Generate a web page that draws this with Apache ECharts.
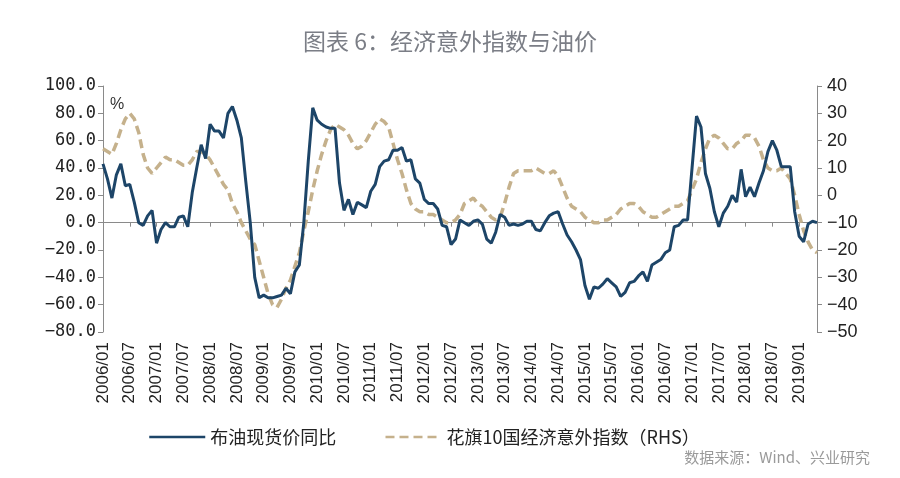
<!DOCTYPE html>
<html>
<head>
<meta charset="utf-8">
<script src="https://cdn.jsdelivr.net/npm/echarts@6/dist/echarts.min.js"></script>
<style>
  html, body { margin: 0; padding: 0; background: #fff; }
  #chart { width: 900px; height: 478px; }
</style>
</head>
<body>
<div id="chart"></div>
<script>
// 月份：2006/01 - 2019/05
let months = [];
for (let y = 2006; y <= 2019; y++) {
  for (let m = 1; m <= 12; m++) {
    if (y === 2019 && m > 5) break;
    months.push(y + '/' + (m < 10 ? '0' + m : m));
  }
}

// 布油现货价同比（左轴，%）
let oilYoy = [
  43, 32, 18, 35, 43, 27, 28, 15, 0, -2,
  5, 9, -15, -5, 0, -3, -3, 4, 5, -3,
  22, 40, 57, 47, 72, 67, 67, 62, 80, 85,
  75, 62, 30, 0, -40, -55, -53, -55, -55, -54,
  -53, -48, -52, -36, -31, 0, 45, 84, 75, 72,
  70, 69, 69, 29, 9, 17, 6, 15, 13, 11,
  23, 28, 41, 45, 46, 53, 53, 55, 45, 46,
  32, 29, 17, 14, 14, 10, -2, -3, -16, -12,
  2, 0, -2, 1, 2, -1, -12, -15, -7, 6,
  4, -2, -1, -2, -1, 1, 1, -5, -6, 0,
  5, 7, 8, -1, -9, -14, -20, -27, -46, -56,
  -47, -48, -45, -41, -44, -47, -54, -51, -44, -43,
  -39, -36, -43, -31, -29, -27, -22, -20, -3, -2,
  2, 2, 40, 78, 70, 36, 25, 8, -3, 7,
  12, 20, 15, 39, 19, 26, 19, 29, 38, 52,
  60, 53, 41, 41, 41, 8, -10, -14, -1, 1, 0
];

// 花旗10国经济意外指数（右轴）
let citiSurprise = [
  17, 16, 15, 19, 24, 28, 30, 28, 23, 15,
  10, 8, 10, 12, 14, 13, 13, 12, 11, 11,
  13, 16, 16, 15, 13, 10, 7, 4, 2, -3,
  -6, -10, -13, -16, -18, -24, -30, -36, -40, -41,
  -38, -34, -31, -26, -21, -13, -6, 2, 9, 15,
  20, 24, 26, 25, 24, 22, 19, 17, 18, 20,
  23, 26, 28, 27, 25, 19, 13, 8, 2, -3,
  -5, -6, -6, -7, -7, -8, -9, -10, -10, -9,
  -7, -3, -2, -1, -3, -4, -6, -8, -9, -8,
  -3, 3, 8, 9, 9, 9, 9, 10, 9, 8,
  8, 9, 7, 3, -1, -4, -5, -6, -8, -9,
  -10, -10, -9, -9, -8, -7, -5, -4, -3, -3,
  -4, -6, -7, -8, -8, -7, -6, -5, -4, -4,
  -3, -2, 2, 6, 12, 17, 21, 22, 21, 19,
  17, 17, 19, 20, 22, 22, 21, 18, 13, 10,
  9, 9, 10, 8, 6, 0, -7, -13, -17, -20, -21
];

let seriesNames = ['布油现货价同比', '花旗10国经济意外指数（RHS）'];

let axisGray = '#8a8a8a';
let minus = function (s) { return String(s).replace('-', '\u2212'); };

let myChart = echarts.init(document.getElementById('chart'));
myChart.setOption({
  animation: false,
  backgroundColor: '#ffffff',
  grid: { left: 103, right: 83, top: 86, bottom: 146 },
  legend: {
    left: 143,
    top: 423,
    itemWidth: 56,
    itemHeight: 18,
    itemGap: 48,
    itemStyle: { opacity: 0 },
    lineStyle: { width: 2.5 },
    textStyle: { fontSize: 18, color: '#222', fontFamily: 'Noto Sans CJK SC' },
    data: seriesNames
  },
  xAxis: [
    {
      type: 'category',
      data: months,
      boundaryGap: false,
      axisLine: { onZero: true, onZeroAxisIndex: 0, lineStyle: { color: axisGray, width: 1 } },
      axisTick: { show: true, interval: 5, length: 4, lineStyle: { color: axisGray } },
      axisLabel: { show: false },
      splitLine: { show: false }
    },
    {
      type: 'category',
      data: months,
      boundaryGap: false,
      position: 'bottom',
      axisLine: { show: false, onZero: false },
      axisTick: { show: false },
      axisLabel: {
        interval: 5,
        rotate: 90,
        margin: 10,
        fontSize: 17,
        color: '#222',
        fontFamily: 'Liberation Sans'
      },
      splitLine: { show: false }
    }
  ],
  yAxis: [
    {
      type: 'value',
      position: 'left',
      min: -80,
      max: 100,
      interval: 20,
      axisLine: { show: true, lineStyle: { color: axisGray } },
      axisTick: { show: true, length: 5, lineStyle: { color: axisGray } },
      axisLabel: {
        margin: 7,
        fontSize: 17,
        color: '#222',
        fontFamily: 'DejaVu Sans Mono',
        formatter: function (v) { return minus(v.toFixed(1)); }
      },
      splitLine: { show: false }
    },
    {
      type: 'value',
      position: 'right',
      min: -50,
      max: 40,
      interval: 10,
      axisLine: { show: true, lineStyle: { color: axisGray } },
      axisTick: { show: true, length: 5, lineStyle: { color: axisGray } },
      axisLabel: {
        margin: 10,
        fontSize: 18,
        color: '#222',
        fontFamily: 'Liberation Sans',
        formatter: function (v) { return minus(v); }
      },
      splitLine: { show: false }
    }
  ],
  series: [
    {
      name: seriesNames[0],
      type: 'line',
      xAxisIndex: 0,
      yAxisIndex: 0,
      data: oilYoy,
      symbol: 'none',
      z: 3,
      lineStyle: { color: '#1d4568', width: 3 },
      itemStyle: { color: '#1d4568' }
    },
    {
      name: seriesNames[1],
      type: 'line',
      xAxisIndex: 0,
      yAxisIndex: 1,
      data: citiSurprise,
      symbol: 'none',
      z: 2,
      lineStyle: { color: '#c5b18c', width: 3.5, type: [9, 5] },
      itemStyle: { color: '#c5b18c' }
    }
  ],
  graphic: [
    {
      type: 'text',
      left: 'center',
      top: 30,
      style: {
        text: '图表 6：经济意外指数与油价',
        fontSize: 23,
        fontFamily: 'Noto Sans CJK SC',
        fill: '#7b7e86'
      }
    },
    {
      type: 'text',
      left: 110,
      top: 97,
      style: { text: '%', fontSize: 16, fontFamily: 'Liberation Sans', fill: '#333' }
    },
    {
      type: 'text',
      right: 30,
      top: 450,
      style: {
        text: '数据来源：Wind、兴业研究',
        fontSize: 15,
        fontFamily: 'Noto Sans CJK SC',
        fill: '#9a9a9a'
      }
    }
  ]
});
</script>
</body>
</html>
